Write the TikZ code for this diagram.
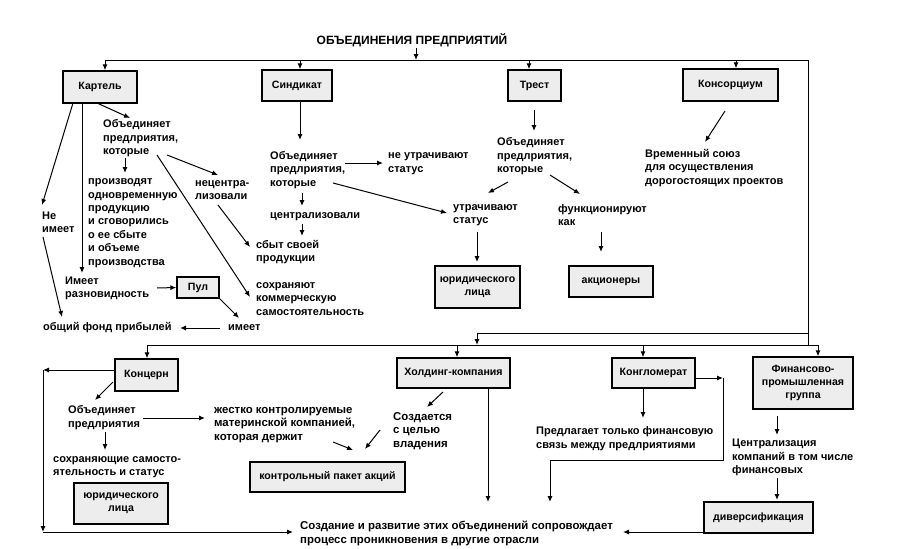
\documentclass[tikz,border=0pt]{standalone}
\usepackage{fontspec}
\setmainfont{Liberation Sans}
\usetikzlibrary{arrows.meta}
\begin{document}
\begin{tikzpicture}[x=1pt,y=-1pt,
  txt/.style={font=\fontsize{11}{13.4}\selectfont\bfseries, align=left, inner sep=0pt, anchor=west},
  big/.style={font=\fontsize{11.4}{13.4}\selectfont\bfseries},
  bx/.style={draw, line width=1.4pt, fill=gray!14, font=\fontsize{10.6}{13}\selectfont\bfseries, align=center, inner sep=0pt},
  arr/.style={line width=1pt, -{Latex[length=6pt,width=5pt]}},
  ln/.style={line width=1pt}]
\useasboundingbox (0,0) rectangle (908,549);
% ---------- title and boxes ----------
\node[font=\fontsize{12}{13}\selectfont\bfseries, inner sep=1pt] (title) at (412,40) {ОБЪЕДИНЕНИЯ ПРЕДПРИЯТИЙ};
\node[bx, minimum width=74pt, minimum height=32pt] (kartel) at (100,87) {Картель};
\node[bx, minimum width=70pt, minimum height=31pt] (sind) at (297,85.5) {Синдикат};
\node[bx, minimum width=53pt, minimum height=31pt] (trest) at (534.5,85.5) {Трест};
\node[bx, minimum width=95pt, minimum height=32pt] (kons) at (730.5,85) {Консорциум};
\node[bx, minimum width=42pt, minimum height=21pt] (pul) at (198,287.5) {Пул};
\node[bx, minimum width=85pt, minimum height=42pt] (yur1) at (477.5,287) {юридического\\лица};
\node[bx, minimum width=84pt, minimum height=31pt] (akc) at (611,281.5) {акционеры};
\node[bx, minimum width=63pt, minimum height=32pt] (konc) at (146.5,375) {Концерн};
\node[bx, minimum width=94pt, minimum height=41pt] (yur2) at (121,503.5) {юридического\\лица};
\node[bx, minimum width=155pt, minimum height=30pt] (kpa) at (327.5,477) {контрольный пакет акций};
\node[bx, minimum width=113pt, minimum height=30pt] (hold) at (453.5,373) {Холдинг-компания};
\node[bx, minimum width=83pt, minimum height=30pt] (kong) at (653.5,373) {Конгломерат};
\node[bx, minimum width=100pt, minimum height=52pt] (fpg) at (803,383) {Финансово-\\промышленная\\группа};
\node[bx, minimum width=109pt, minimum height=31pt] (div) at (758.5,517.5) {диверсификация};
% ---------- texts ----------
\node[txt] (k1) at (103,138.5) {Объединяет\\предлриятия,\\которые};
\node[txt] (k2) at (88,223) {производят\\одновременную\\продукцию\\и сговорились\\о ее сбыте\\и объеме\\производства};
\node[txt] (k3) at (195,190) {нецентра-\\лизовали};
\node[txt] (k4) at (42,222) {Не\\имеет};
\node[txt] (k5) at (65,288.5) {Имеет\\разновидность};
\node[txt] (k6) at (228,328) {имеет};
\node[txt] (k7) at (43,328) {общий фонд прибылей};
\node[txt] (s1) at (270,170) {Объединяет\\предлриятия,\\которые};
\node[txt] (s2) at (388,163.8) {не утрачивают\\статус};
\node[txt] (s3) at (270,217) {централизовали};
\node[txt] (s4) at (256,252) {сбыт своей\\продукции};
\node[txt] (s5) at (256,299) {сохраняют\\коммерческую\\самостоятельность};
\node[txt] (t1) at (497,156.5) {Объединяет\\предлриятия,\\которые};
\node[txt] (t2) at (453,215) {утрачивают\\статус};
\node[txt] (t3) at (558,215) {функционируют\\как};
\node[txt] (c1) at (645,168) {Временный союз\\для осуществления\\дорогостоящих проектов};
\node[txt] (b1) at (68,417.5) {Объединяет\\предлриятия};
\node[txt] (b2) at (53,467) {сохраняющие самосто-\\ятельность и статус};
\node[txt,big] (b3) at (214,425) {жестко контролируемые\\материнской компанией,\\которая держит};
\node[txt,big] (b4) at (393,431) {Создается\\с целью\\владения};
\node[txt] (b5) at (536,438.5) {Предлагает только финансовую\\связь между предлриятиями};
\node[txt] (b6) at (732,457.5) {Централизация\\компаний в том числе\\финансовых};
\node[txt,big] (fin) at (300,533.5) {Создание и развитие этих объединений сопровождает\\процесс проникновения в другие отрасли};
% ---------- frame lines ----------
\coordinate (tl) at (105,60);
\coordinate (tr) at (808,60);
\coordinate (tt) at (416,60);
\coordinate (rb) at (808,345);
\coordinate (rm) at (808,333);
\coordinate (mm) at (477,333);
\coordinate (mb) at (477,345);
\coordinate (bl) at (147,345);
\coordinate (br) at (818,345);
\draw[ln] (tl) -- (tr) -- (rb);
\draw[arr] (title.south -| tt) -- (tt);
\draw[arr] (tl) -- (kartel.north -| tl);
\draw[arr] (tl -| 300,0) -- (sind.north -| 300,0);
\draw[arr] (tl -| 529,0) -- (trest.north -| 529,0);
\draw[arr] (tl -| 736,0) -- (kons.north -| 736,0);
\draw[ln] (rm) -- (mm);
\draw[arr] (mm) -- (mb);
\draw[ln] (bl) -- (br);
\draw[arr] (bl) -- (konc.north -| bl);
\draw[arr] (bl -| 457,0) -- (hold.north -| 457,0);
\draw[arr] (bl -| 643,0) -- (kong.north -| 643,0);
\draw[arr] (br) -- (fpg.north -| br);
% ---------- Картель ----------
\coordinate (ka) at (97,103);   \coordinate (kb) at (130,118);
\coordinate (kc) at (125,158);  \coordinate (kd) at (125,173);
\coordinate (ke) at (167,155);  \coordinate (kf) at (218,175);
\coordinate (kg) at (157,155);  \coordinate (kh) at (250,297);
\coordinate (ki) at (218,205);  \coordinate (kj) at (250,247);
\coordinate (kk) at (82,103);   \coordinate (kl) at (82,273);
\coordinate (km) at (73,103);   \coordinate (kn) at (42,205);
\coordinate (ko) at (43,237);   \coordinate (kp) at (62,317);
\coordinate (kq) at (157,288);
\coordinate (kr) at (219,298);  \coordinate (ks) at (239,318);
\coordinate (kt) at (220,328);  \coordinate (ku) at (180,328);
\draw[arr] (ka) -- (kb);
\draw[arr] (kc) -- (kd);
\draw[arr] (ke) -- (kf);
\draw[arr] (kg) -- (kh);
\draw[arr] (ki) -- (kj);
\draw[arr] (kk) -- (kl);
\draw[arr] (km) -- (kn);
\draw[arr] (ko) -- (kp);
\draw[arr] (kq) -- (pul.west);
\draw[arr] (kr) -- (ks);
\draw[arr] (kt) -- (ku);
% ---------- Синдикат ----------
\coordinate (sa) at (300,140);
\coordinate (sb) at (345,163);  \coordinate (sc) at (383,163);
\coordinate (sd) at (333,183);  \coordinate (se) at (447,213);
\coordinate (sf) at (302,193);  \coordinate (sg) at (302,206);
\coordinate (sh) at (302,224);  \coordinate (si) at (302,236);
\draw[arr] (sind.south -| sa) -- (sa);
\draw[arr] (sb) -- (sc);
\draw[arr] (sd) -- (se);
\draw[arr] (sf) -- (sg);
\draw[arr] (sh) -- (si);
% ---------- Трест ----------
\coordinate (ta) at (534,110);  \coordinate (tb) at (534,131);
\coordinate (tc) at (508,182);  \coordinate (td) at (488,193);
\coordinate (te) at (550,175);  \coordinate (tf) at (580,194);
\coordinate (tg) at (477,232);  \coordinate (th) at (477,262);
\coordinate (ti) at (601,232);  \coordinate (tj) at (601,252);
\draw[arr] (ta) -- (tb);
\draw[arr] (tc) -- (td);
\draw[arr] (te) -- (tf);
\draw[arr] (tg) -- (th);
\draw[arr] (ti) -- (tj);
% ---------- Консорциум ----------
\coordinate (ca) at (725,111);  \coordinate (cb) at (705,142);
\draw[arr] (ca) -- (cb);
% ---------- bottom ----------
\coordinate (la) at (43,370);   \coordinate (lb) at (43,532);  \coordinate (lc) at (293,532);
\draw[arr] (konc.west |- la) -- (la);
\draw[arr] (la) -- (lb);
\draw[arr] (lb) -- (lc);
\coordinate (ba) at (113,382);  \coordinate (bb) at (95,400);
\coordinate (bc) at (143,418);  \coordinate (bd) at (205,418);
\coordinate (be) at (105,432);  \coordinate (bf) at (105,450);
\coordinate (bg) at (333,442);  \coordinate (bh) at (353,450);
\coordinate (bi) at (380,430);  \coordinate (bj) at (365,449);
\coordinate (bk) at (443,392);  \coordinate (bl2) at (427,407);
\coordinate (bm) at (488,502);
\coordinate (bn) at (643,418);
\coordinate (bo) at (723,378);  \coordinate (bp) at (723,460);
\coordinate (bq) at (550,460);  \coordinate (br2) at (550,502);
\coordinate (bs) at (777,416);  \coordinate (bt) at (777,435);
\coordinate (bu) at (777,478);  \coordinate (bv) at (777,500);
\coordinate (bw) at (623,532);
\draw[arr] (ba) -- (bb);
\draw[arr] (bc) -- (bd);
\draw[arr] (be) -- (bf);
\draw[arr] (bg) -- (bh);
\draw[arr] (bi) -- (bj);
\draw[arr] (bk) -- (bl2);
\draw[arr] (hold.south -| bm) -- (bm);
\draw[arr] (kong.south -| bn) -- (bn);
\draw[arr] (kong.east |- bo) -- (bo);
\draw[arr] (bo) -- (bp) -- (bq) -- (br2);
\draw[arr] (bs) -- (bt);
\draw[arr] (bu) -- (bv);
\draw[arr] (div.west |- bw) -- (bw);
\end{tikzpicture}
\end{document}
